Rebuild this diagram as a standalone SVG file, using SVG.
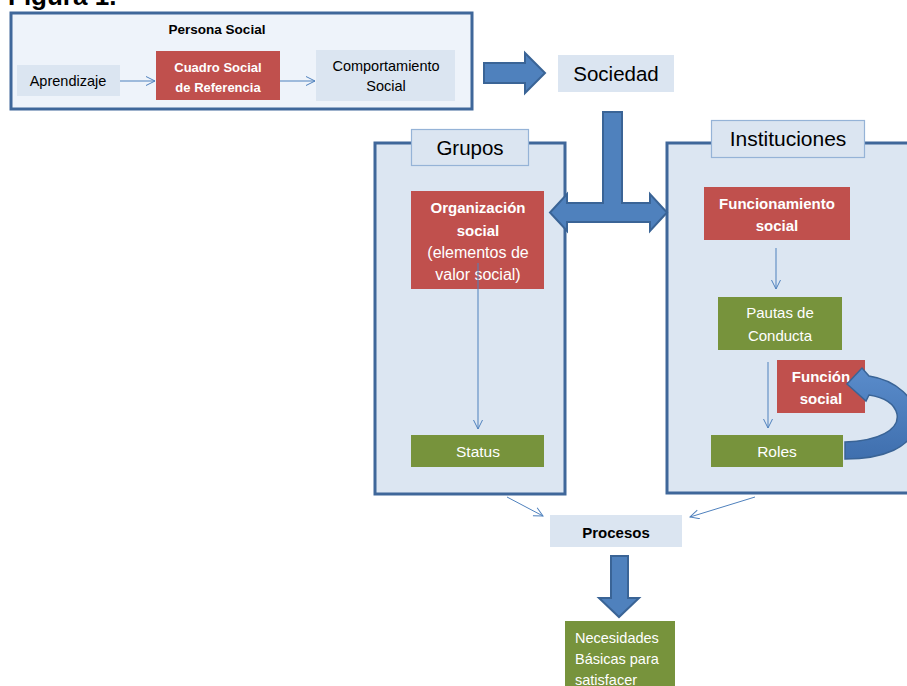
<svg xmlns="http://www.w3.org/2000/svg" width="907" height="686" viewBox="0 0 907 686">
  <style>
    text { font-family: "Liberation Sans", Arial, sans-serif; }
    .frame { fill: #DCE6F2; stroke: #3F679A; stroke-width: 3; }
    .label { fill: #DBE5F1; stroke: #95B3D7; stroke-width: 1.2; }
    .plain { fill: #DBE5F1; }
    .red { fill: #C0504D; }
    .green { fill: #77933C; }
    .dark { fill: #000000; text-anchor: middle; }
    .white { fill: #FFFFFF; text-anchor: middle; }
    .b { font-weight: bold; }
    .link { fill: none; stroke: #4F81BD; stroke-width: 1; marker-end: url(#open); }
    .block { fill: #4F81BD; stroke: #3A6496; stroke-width: 2; stroke-linejoin: miter; }
  </style>
  <defs>
    <marker id="open" markerUnits="userSpaceOnUse" markerWidth="14" markerHeight="12" refX="10" refY="5" orient="auto">
      <path d="M1,0.5 L10,5 L1,9.5" fill="none" stroke="#4F81BD" stroke-width="1"/>
    </marker>
    <linearGradient id="curveFill" x1="0" y1="0" x2="0" y2="1">
      <stop offset="0" stop-color="#5A8CCB"/>
      <stop offset="1" stop-color="#3F6FAE"/>
    </linearGradient>
  </defs>

  <rect width="907" height="686" fill="#FFFFFF"/>

  <!-- heading, partly above the page edge -->
  <text x="8" y="5" font-size="26" font-weight="bold" fill="#000000">Figura 1.</text>

  <!-- Persona Social panel -->
  <g id="persona-social">
    <rect x="11" y="13" width="461" height="96" fill="#EEF3FA" stroke="#3F679A" stroke-width="3"/>
    <text class="dark b" x="217" y="34" font-size="13.5">Persona Social</text>
  </g>
  <g id="aprendizaje">
    <rect class="plain" x="17" y="65" width="103" height="31"/>
    <text class="dark" x="68" y="86" font-size="14.5">Aprendizaje</text>
  </g>
  <g id="cuadro-social">
    <rect class="red" x="156" y="51" width="124" height="49"/>
    <text class="white b" x="218" y="72" font-size="13">Cuadro Social</text>
    <text class="white b" x="218" y="92" font-size="13">de Referencia</text>
  </g>
  <g id="comportamiento">
    <rect class="plain" x="316" y="50" width="139" height="51"/>
    <text class="dark" x="386" y="71" font-size="14.5">Comportamiento</text>
    <text class="dark" x="386" y="91" font-size="14.5">Social</text>
  </g>

  <g id="sociedad">
    <rect class="plain" x="558" y="55" width="116" height="37"/>
    <text class="dark" x="616" y="81" font-size="20.5">Sociedad</text>
  </g>

  <!-- Grupos container -->
  <g id="grupos">
    <rect class="frame" x="375" y="143" width="190" height="351"/>
    <rect class="label" x="411.5" y="129.5" width="117" height="36"/>
    <text class="dark" x="470" y="155" font-size="20.5">Grupos</text>
  </g>
  <g id="organizacion-social">
    <rect class="red" x="411" y="191" width="133" height="98"/>
    <text class="white b" x="478" y="213" font-size="15">Organización</text>
    <text class="white b" x="478" y="236" font-size="15">social</text>
    <text class="white" x="478" y="258" font-size="16">(elementos de</text>
    <text class="white" x="478" y="280" font-size="16">valor social)</text>
  </g>
  <g id="status">
    <rect class="green" x="411" y="435" width="133" height="32"/>
    <text class="white" x="478" y="457" font-size="15.5">Status</text>
  </g>

  <!-- Instituciones container -->
  <g id="instituciones">
    <rect class="frame" x="667" y="143" width="260" height="350"/>
    <rect class="label" x="711.5" y="120.5" width="153" height="37"/>
    <text class="dark" x="788" y="146" font-size="21">Instituciones</text>
  </g>
  <g id="funcionamiento-social">
    <rect class="red" x="704" y="187" width="146" height="53"/>
    <text class="white b" x="777" y="209" font-size="15">Funcionamiento</text>
    <text class="white b" x="777" y="231" font-size="15">social</text>
  </g>
  <g id="pautas-de-conducta">
    <rect class="green" x="718" y="297" width="124" height="53"/>
    <text class="white" x="780" y="318" font-size="15">Pautas de</text>
    <text class="white" x="780" y="341" font-size="15">Conducta</text>
  </g>
  <g id="funcion-social">
    <rect class="red" x="777" y="360" width="88" height="53"/>
    <text class="white b" x="821" y="382" font-size="15">Función</text>
    <text class="white b" x="821" y="404" font-size="15">social</text>
  </g>
  <g id="roles">
    <rect class="green" x="711" y="435" width="132" height="32"/>
    <text class="white" x="777" y="457" font-size="15.5">Roles</text>
  </g>

  <g id="procesos">
    <rect class="plain" x="550" y="515" width="132" height="32"/>
    <text class="dark b" x="616" y="538" font-size="15">Procesos</text>
  </g>
  <g id="necesidades">
    <rect class="green" x="565" y="621" width="110" height="70"/>
    <text fill="#FFFFFF" x="575" y="643" font-size="14.5">Necesidades</text>
    <text fill="#FFFFFF" x="575" y="664" font-size="14.5">Básicas para</text>
    <text fill="#FFFFFF" x="575" y="685" font-size="14.5">satisfacer</text>
  </g>

  <!-- connectors -->
  <g id="connectors">
    <line class="link" x1="120" y1="81" x2="155" y2="81"/>
    <line class="link" x1="280" y1="81" x2="315" y2="81"/>
    <line class="link" x1="478" y1="263" x2="478" y2="429"/>
    <line class="link" x1="776" y1="248" x2="776" y2="289"/>
    <line class="link" x1="768" y1="362" x2="768" y2="428"/>
    <line class="link" x1="507" y1="497" x2="543" y2="516"/>
    <line class="link" x1="755" y1="497" x2="690" y2="517"/>

    <!-- block arrow: Persona Social to Sociedad -->
    <path class="block" d="M484,63 L525,63 L525,53 L545,73 L525,93 L525,83 L484,83 Z"/>
    <!-- block arrow: Sociedad splitting to Grupos and Instituciones -->
    <path class="block" d="M603,112 L622,112 L622,203 L650,203 L650,194 L667,212.5 L650,231 L650,222 L567,222 L567,231 L550,212.5 L567,194 L567,203 L603,203 Z"/>
    <!-- block arrow: Procesos to Necesidades -->
    <path class="block" d="M611,556 L628,556 L628,598 L639,598 L619,617 L599,598 L611,598 Z"/>
    <!-- curved arrow: Roles back to Función social -->
    <path d="M845,442 C878,441 900,430 897,414 C894,402 882,397 869,395 L866,401 L847,384 L862,368 L869,376 C895,380 918,398 916,422 C914,448 882,459 845,459 Z" fill="url(#curveFill)" stroke="#3A6496" stroke-width="1.5"/>
  </g>
</svg>
